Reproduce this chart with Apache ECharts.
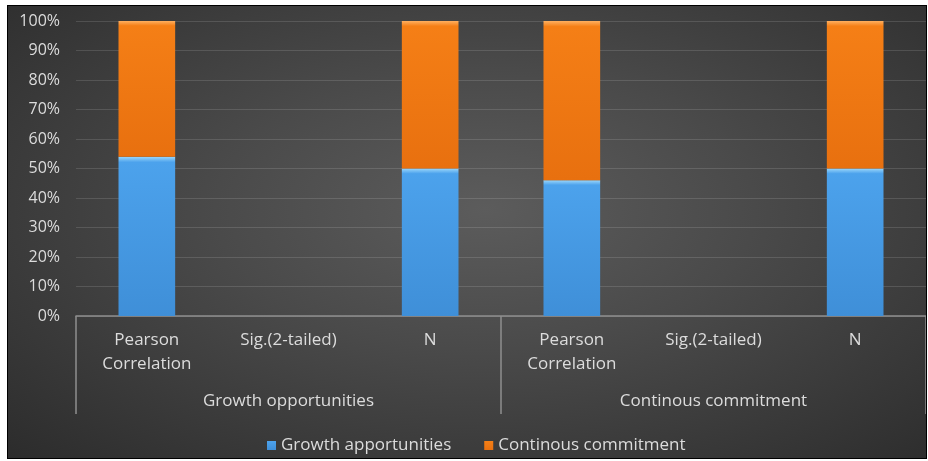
<!DOCTYPE html>
<html>
<head>
<meta charset="utf-8">
<script src="https://cdn.jsdelivr.net/npm/echarts@6/dist/echarts.min.js"></script>
<style>
  html, body { margin: 0; padding: 0; background: #ffffff; width: 928px; height: 461px; overflow: hidden; }
  #wrap { position: absolute; left: 7px; top: 5px; width: 918px; height: 452px; border: 1px solid #000;
          background: radial-gradient(ellipse at 52% 45%, #5c5c5c 0%, #4a4a4a 40%, #2c2c2c 100%); }
  #chart { width: 918px; height: 452px; }
</style>
</head>
<body>
<div id="wrap"><div id="chart"></div></div>
<script>
const categories = ['Pearson\nCorrelation', 'Sig.(2-tailed)', 'N', 'Pearson\nCorrelation', 'Sig.(2-tailed)', 'N'];
const groups = ['Growth opportunities', 'Continous commitment'];
const growthApportunities = [54, 0, 50, 46, 0, 50];
const continousCommitment = [46, 0, 50, 54, 0, 50];
const yTicks = [0, 10, 20, 30, 40, 50, 60, 70, 80, 90, 100];

const txt = '#dcdcdc';
const axisCol = '#8e8e8e';
const font = 'Open Sans';

function barColor(top, main, edge) {
  return {
    type: 'linear', x: 0, y: 0, x2: 0, y2: 1,
    colorStops: [
      { offset: 0, color: top },
      { offset: 0.035, color: main },
      { offset: 1, color: edge }
    ]
  };
}

const chart = echarts.init(document.getElementById('chart'), null, { renderer: 'canvas' });
chart.setOption({
  backgroundColor: 'transparent',
  textStyle: { fontFamily: font },
  grid: { left: 68, right: 0, top: 15, bottom: 142 },
  legend: {
    left: 254, top: 426,
    itemWidth: 9, itemHeight: 9, itemGap: 33,
    icon: 'rect',
    textStyle: { color: txt, fontSize: 17, fontFamily: font },
    data: ['Growth apportunities', 'Continous commitment']
  },
  xAxis: [
    {
      type: 'category', data: categories, gridIndex: 0, position: 'bottom',
      axisLine: { show: true, lineStyle: { color: axisCol, width: 1.5 } },
      axisTick: { show: false },
      axisLabel: { color: txt, fontSize: 17, fontFamily: font, margin: 12, lineHeight: 24, interval: 0 }
    },
    {
      type: 'category', data: groups, gridIndex: 0, position: 'bottom',
      axisLine: { show: false },
      axisTick: { show: true, length: 98, lineStyle: { color: axisCol, width: 1.5 } },
      axisLabel: { color: txt, fontSize: 17, fontFamily: font, margin: 77 }
    }
  ],
  yAxis: {
    type: 'value', min: 0, max: 100, interval: 10,
    axisLine: { show: false }, axisTick: { show: false },
    splitLine: { lineStyle: { color: 'rgba(255,255,255,0.13)', width: 1 } },
    axisLabel: {
      color: txt, fontSize: 16, fontFamily: font, margin: 16,
      formatter: v => (yTicks.indexOf(v) >= 0 ? v + '%' : '')
    }
  },
  series: [
    {
      name: 'Growth apportunities', type: 'bar', stack: 'total', barWidth: '40%',
      xAxisIndex: 0, data: growthApportunities,
      itemStyle: { color: barColor('#9ad6fb', '#4ca2ec', '#3f8fd8'), borderWidth: 0 }
    },
    {
      name: 'Continous commitment', type: 'bar', stack: 'total', barWidth: '40%',
      xAxisIndex: 0, data: continousCommitment,
      itemStyle: { color: barColor('#ffb060', '#f57f16', '#e8700f'), borderWidth: 0 }
    }
  ]
});
</script>
</body>
</html>
